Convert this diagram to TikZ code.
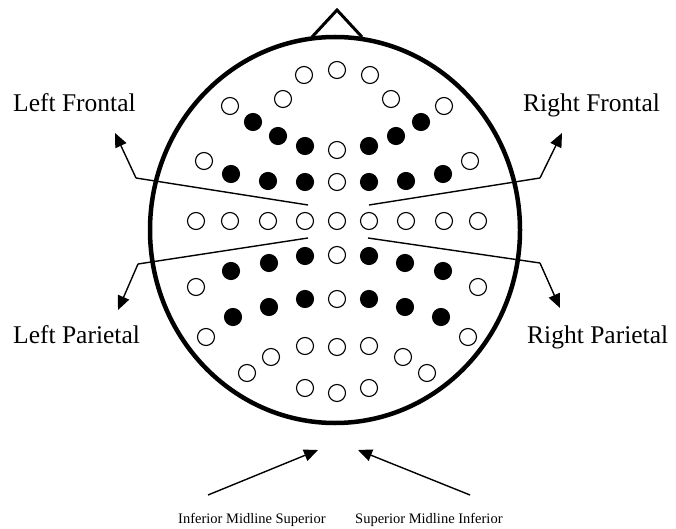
\documentclass[tikz,border=0pt]{standalone}
\usepackage{fontspec}
\setmainfont{Liberation Serif}
\usetikzlibrary{arrows.meta}

\begin{document}
\begin{tikzpicture}[
      x=1pt, y=-1pt,
      on/.style={circle, draw=black, fill=white, line width=1.1pt,
                 minimum size=17pt, inner sep=0pt},
      off/.style={circle, draw=black, fill=black, line width=1.1pt,
                  minimum size=17pt, inner sep=0pt},
      lbl/.style={font=\fontsize{25.5}{28}\selectfont, anchor=base west,
                  inner sep=0pt},
      sml/.style={font=\fontsize{14.5}{17}\selectfont, anchor=base west,
                  inner sep=0pt},
      cut/.style={black, line width=1.4pt},
      pt/.style={black, line width=1.4pt, -{Triangle[length=14pt, width=12pt]}},
    ]
    \useasboundingbox (0,0) rectangle (676,529);

    % Head outline with nose
    \draw[line width=3pt, line join=miter] (312,37) -- (337,10) -- (362,37);
    \draw[line width=4.5pt, fill=white] (335,230) ellipse [x radius=185, y radius=193];
    \coordinate (nose) at (337,10);

    % Electrodes
    \foreach \x/\y [count=\i] in {337/70, 304/75, 370/75,
        283/99, 391/99, 230/106, 444/106, 337/150, 204/161, 470/161,
        337/182, 196/221, 230/221, 268/221, 305/221, 337/221, 369/221,
        406/221, 444/221, 478/221, 337/255, 196/287, 478/287, 337/299,
        206/337, 468/337, 305/346, 337/347, 369/346, 271/357, 403/357,
        247/373, 427/373, 305/388, 337/393, 369/388}
      \node[on] (o\i) at (\x,\y) {};
    \foreach \x/\y [count=\i] in {253/122, 421/122, 278/136, 396/136,
        305/146, 369/146, 231/174, 443/174, 268/181, 406/181, 305/182,
        369/182, 305/256, 369/256, 269/263, 405/263, 231/271, 443/271,
        305/299, 369/299, 269/307, 405/307, 233/317, 441/317}
      \node[off] (f\i) at (\x,\y) {};

    % Region labels
    \node[lbl] (lf) at (13,112) {Left Frontal};
    \node[lbl] (rf) at (523,112) {Right Frontal};
    \node[lbl] (lp) at (13,343) {Left Parietal};
    \node[lbl] (rp) at (527,343) {Right Parietal};
    \node[sml] (ims) at (178,523) {Inferior Midline Superior};
    \node[sml] (smi) at (355,523) {Superior Midline Inferior};

    % Cut lines and bend points
    \coordinate (lfa) at (308,205); \coordinate (lfb) at (136,178);
    \coordinate (rfa) at (369,205); \coordinate (rfb) at (540,178);
    \coordinate (lpa) at (308,238); \coordinate (lpb) at (138,264);
    \coordinate (rpa) at (368,238); \coordinate (rpb) at (540,263);
    \coordinate (lft) at (115,133); \coordinate (rft) at (562,133);
    \coordinate (lpt) at (118,310); \coordinate (rpt) at (560,308);

    \draw[cut] (lfa) -- (lfb); \draw[pt] (lfb) -- (lft);
    \draw[cut] (rfa) -- (rfb); \draw[pt] (rfb) -- (rft);
    \draw[cut] (lpa) -- (lpb); \draw[pt] (lpb) -- (lpt);
    \draw[cut] (rpa) -- (rpb); \draw[pt] (rpb) -- (rpt);

    % Midline arrows
    \coordinate (ima) at (208,495); \coordinate (imt) at (318,450);
    \coordinate (sma) at (470,495); \coordinate (smt) at (358,450);
    \draw[pt] (ima) -- (imt);
    \draw[pt] (sma) -- (smt);
    \end{tikzpicture}
\end{document}
